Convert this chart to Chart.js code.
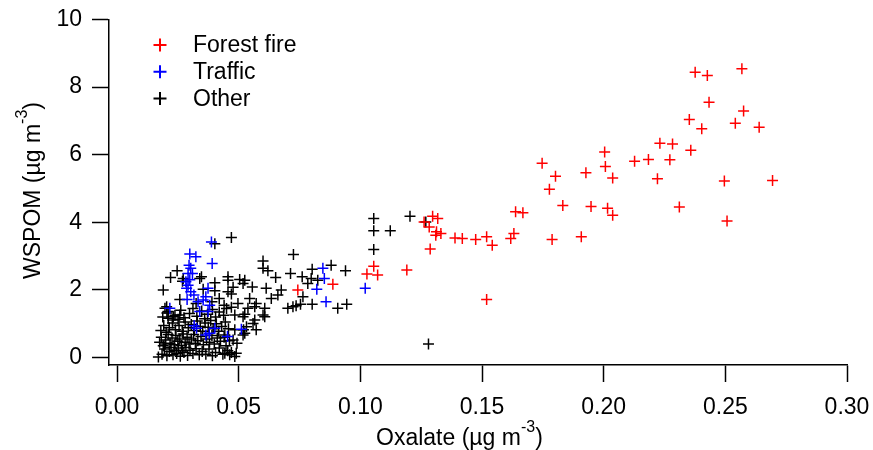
<!DOCTYPE html>
<html>
<head>
<meta charset="utf-8">
<script src="https://cdn.jsdelivr.net/npm/chart.js@4.4.0/dist/chart.umd.min.js"></script>
<style>
html,body{margin:0;padding:0;background:#fff;}
#wrap{width:873px;height:450px;position:relative;}
</style>
</head>
<body>
<div id="wrap"><canvas id="c" width="873" height="450"></canvas></div>
<script>
// ---- Data (Oxalate [µg m-3], WSPOM [µg m-3]) ----
const seriesNames = ["Forest fire", "Traffic", "Other"];
const seriesColors = ["#ff0000", "#0000ff", "#000000"];

const forestFire = [
  [0.0743,2.00],[0.0887,2.17],[0.1027,2.47],[0.1055,2.70],[0.1071,2.44],[0.1191,2.59],
  [0.1287,3.21],[0.1262,4.01],[0.1297,4.18],[0.1318,4.11],[0.1283,3.86],[0.1310,3.62],
  [0.1331,3.67],[0.1313,3.72],[0.1389,3.54],[0.1419,3.52],[0.1474,3.49],[0.1519,3.57],
  [0.1542,3.32],[0.1519,1.72],[0.1638,4.31],[0.1668,4.28],[0.1631,3.67],[0.1618,3.52],
  [0.1788,3.49],[0.1747,5.75],[0.1802,5.36],[0.1777,4.98],[0.1832,4.50],[0.1908,3.57],
  [0.1927,5.47],[0.1948,4.47],[0.2004,6.08],[0.2007,5.65],[0.2037,5.31],[0.2016,4.42],
  [0.2037,4.21],[0.2127,5.81],[0.2184,5.86],[0.2221,5.29],[0.2231,6.34],[0.2283,6.32],
  [0.2272,5.85],[0.2358,6.13],[0.2311,4.45],[0.2496,5.22],[0.2507,4.04],[0.2694,5.24],
  [0.2376,8.44],[0.2426,8.34],[0.2568,8.54],[0.2433,7.55],[0.2575,7.29],[0.2352,7.04],
  [0.2403,6.77],[0.2541,6.93],[0.2639,6.81]
];

const traffic = [
  [0.0388,3.42],[0.0391,2.78],[0.0299,3.06],[0.0324,2.98],[0.0296,2.73],[0.0303,2.64],
  [0.0292,2.49],[0.0310,2.49],[0.0299,2.30],[0.0283,2.24],[0.0292,2.14],[0.0286,2.05],
  [0.0303,1.95],[0.0316,1.85],[0.0288,1.72],[0.0374,2.05],[0.0365,1.80],[0.0354,1.70],
  [0.0333,1.65],[0.0340,1.36],[0.0381,1.55],[0.0374,1.36],[0.0217,1.46],[0.0317,0.94],
  [0.0327,0.87],[0.0402,0.87],[0.0379,0.72],[0.0365,0.67],[0.0454,0.62],[0.0511,0.84],
  [0.0846,2.64],[0.0852,2.34],[0.0821,2.02],[0.0859,1.65],[0.1020,2.05]
];

const other = [
  [0.0725,3.05],[0.1055,4.11],[0.1055,3.75],[0.1055,3.20],[0.1123,3.75],[0.1204,4.18],
  [0.1269,4.01],[0.1280,0.40],
  [0.0600,2.86],[0.0600,2.64],[0.0620,2.57],[0.0652,2.37],[0.0713,2.49],[0.0761,2.39],
  [0.0802,2.61],[0.0798,2.34],[0.0880,2.73],[0.0939,2.57],[0.0784,2.19],[0.0825,2.29],
  [0.0764,1.80],[0.0675,2.00],[0.0661,1.85],[0.0634,1.75],[0.0613,2.05],[0.0556,2.09],
  [0.0525,2.29],[0.0504,2.31],[0.0702,1.46],[0.0723,1.50],[0.0736,1.53],[0.0754,1.58],
  [0.0802,1.58],[0.0907,1.46],[0.0944,1.58],[0.0572,1.60],[0.0545,1.75],[0.0538,1.46],
  [0.0566,1.50],[0.0607,1.46],[0.0600,1.26],[0.0607,1.21],[0.0518,1.21],[0.0559,1.01],
  [0.0532,0.91],[0.0572,0.82],[0.0525,0.72],[0.0456,2.39],[0.0470,3.55],[0.0402,3.37],
  [0.0247,2.57],[0.0220,2.37],[0.0190,2.00],[0.0340,2.34],[0.0402,2.21],[0.0269,2.26],
  [0.0272,2.34],[0.0347,2.39],[0.0354,2.02],[0.0402,1.98],[0.0456,2.29],[0.0477,2.08],
  [0.0518,2.19],[0.0456,1.95],[0.0470,1.88],[0.0497,1.60],[0.0470,1.49],[0.0258,1.72],
  [0.0197,1.46],[0.0204,1.50],[0.0210,1.36],[0.0228,1.11],[0.0210,1.16],[0.0251,1.13],
  [0.0258,1.26],[0.0231,1.21],[0.0484,1.26],[0.0525,1.28],[0.0566,1.11],
  [0.0520,0.82],[0.0518,0.67],[0.0493,0.42],[0.0484,0.03],[0.0443,0.13],[0.0477,0.52],
  [0.0484,0.82],[0.0443,0.67],[0.0490,0.13],[0.0463,0.08],
  [0.0170,0.02],[0.0185,0.10],[0.0195,0.25],[0.0205,0.05],[0.0215,0.18],[0.0222,0.30],
  [0.0230,0.08],[0.0238,0.22],[0.0245,0.12],[0.0252,0.28],[0.0260,0.04],[0.0268,0.20],
  [0.0275,0.15],[0.0283,0.30],[0.0290,0.06],[0.0300,0.22],[0.0312,0.12],[0.0325,0.26],
  [0.0338,0.08],[0.0350,0.18],[0.0365,0.10],[0.0378,0.25],[0.0392,0.05],[0.0405,0.15],
  [0.0420,0.28],[0.0435,0.10],[0.0455,0.20],[0.0470,0.15],[0.0198,0.40],
  [0.0175,0.45],[0.0182,0.60],[0.0190,0.35],[0.0200,0.52],[0.0210,0.68],[0.0218,0.42],
  [0.0226,0.58],[0.0235,0.38],[0.0242,0.65],[0.0250,0.48],[0.0258,0.55],[0.0265,0.36],
  [0.0272,0.70],[0.0280,0.45],[0.0288,0.60],[0.0296,0.40],[0.0305,0.55],[0.0315,0.68],
  [0.0322,0.42],[0.0332,0.50],[0.0345,0.62],[0.0355,0.38],[0.0368,0.55],[0.0380,0.45],
  [0.0390,0.65],[0.0400,0.40],[0.0412,0.58],[0.0425,0.48],[0.0440,0.60],[0.0448,0.35],
  [0.0462,0.50],
  [0.0180,0.80],[0.0192,0.95],[0.0202,0.75],[0.0215,0.88],[0.0228,1.02],[0.0240,0.82],
  [0.0255,0.95],[0.0268,0.78],[0.0280,1.05],[0.0293,0.88],[0.0305,0.98],[0.0318,0.80],
  [0.0330,1.08],[0.0342,0.92],[0.0352,0.78],[0.0362,1.02],[0.0375,0.90],[0.0385,1.10],
  [0.0395,0.85],[0.0408,1.00],[0.0418,0.78],[0.0430,0.92],[0.0445,1.05],[0.0458,0.85],
  [0.0188,1.20],[0.0205,1.32],[0.0238,1.25],[0.0262,1.40],[0.0275,1.18],[0.0298,1.30],
  [0.0312,1.45],[0.0328,1.22],[0.0348,1.38],[0.0360,1.15],[0.0372,1.28],[0.0392,1.42],
  [0.0405,1.20],[0.0420,1.35],[0.0438,1.25],[0.0450,1.45],[0.0390,1.65],[0.0420,1.75],
  [0.0325,1.60],[0.0440,1.55]
];

const xTicks = [0.00, 0.05, 0.10, 0.15, 0.20, 0.25, 0.30];
const yTicks = [0, 2, 4, 6, 8, 10];
const xTitle = ["Oxalate (µg m", "-3", ")"];
const yTitle = ["WSPOM (µg m", "-3", ")"];

// ---- Chart ----
const FONT = "'Liberation Sans', Arial, sans-serif";
const FS = 23;

function toPts(arr){ return arr.map(p => ({x:p[0], y:p[1]})); }

const titlesLegendPlugin = {
  id: 'titlesLegend',
  afterDraw(chart){
    const ctx = chart.ctx;
    ctx.save();
    ctx.fillStyle = '#000';
    ctx.textBaseline = 'alphabetic';
    // x title
    let x = 376, base = 445;
    ctx.font = FS + 'px ' + FONT;
    ctx.fillText(xTitle[0], x, base); x += ctx.measureText(xTitle[0]).width;
    ctx.font = '16px ' + FONT;
    ctx.fillText(xTitle[1], x, base - 13); x += ctx.measureText(xTitle[1]).width;
    ctx.font = FS + 'px ' + FONT;
    ctx.fillText(xTitle[2], x, base);
    // y title (rotated)
    ctx.save();
    ctx.translate(40, 279);
    ctx.rotate(-Math.PI/2);
    let yx = 0;
    ctx.font = FS + 'px ' + FONT;
    ctx.fillText(yTitle[0], yx, 0); yx += ctx.measureText(yTitle[0]).width;
    ctx.font = '16px ' + FONT;
    ctx.fillText(yTitle[1], yx, -13); yx += ctx.measureText(yTitle[1]).width;
    ctx.font = FS + 'px ' + FONT;
    ctx.fillText(yTitle[2], yx, 0);
    ctx.restore();
    // legend
    const rows = [45, 71.7, 98.4];
    ctx.textBaseline = 'middle';
    ctx.font = FS + 'px ' + FONT;
    for (let i = 0; i < seriesNames.length; i++){
      const cy = rows[i], cx = 160;
      ctx.strokeStyle = seriesColors[i];
      ctx.lineWidth = 2;
      ctx.beginPath();
      ctx.moveTo(cx - 6.5, cy); ctx.lineTo(cx + 6.5, cy);
      ctx.moveTo(cx, cy - 6.5); ctx.lineTo(cx, cy + 6.5);
      ctx.stroke();
      ctx.fillStyle = '#000';
      ctx.fillText(seriesNames[i], 193, cy + 1);
    }
    ctx.restore();
  }
};

function ds(label, data, color){
  return {
    label, data: toPts(data),
    pointStyle: 'cross', pointRadius: 5.5, pointHoverRadius: 5.5,
    borderColor: color, backgroundColor: color, pointBorderWidth: 1.5,
    showLine: false
  };
}

new Chart(document.getElementById('c'), {
  type: 'scatter',
  data: {
    datasets: [
      ds(seriesNames[0], forestFire, seriesColors[0]),
      ds(seriesNames[1], traffic, seriesColors[1]),
      ds(seriesNames[2], other, seriesColors[2])
    ]
  },
  options: {
    responsive: false,
    animation: false,
    events: [],
    layout: { padding: { left: 0, right: 26, top: 19.5, bottom: 0 } },
    plugins: { legend: { display: false }, tooltip: { enabled: false } },
    scales: {
      x: {
        type: 'linear', min: -0.0033, max: 0.30,
        afterBuildTicks(s){ s.ticks = xTicks.map(v => ({value: v})); },
        afterFit(s){ s.height = 85; s.paddingLeft = 0; s.paddingRight = 0; s.paddingTop = 0; s.paddingBottom = 0; },
        ticks: { font: { family: FONT, size: FS }, color: '#000', padding: 12,
                 maxRotation: 0, autoSkip: false,
                 callback: v => Number(v).toFixed(2) },
        grid: { display: true, drawOnChartArea: false, drawTicks: true,
                tickLength: 17, tickWidth: 1.5, tickColor: '#000' },
        border: { display: true, color: '#000', width: 1.5 }
      },
      y: {
        type: 'linear', min: -0.22, max: 10,
        afterBuildTicks(s){ s.ticks = yTicks.map(v => ({value: v})); },
        afterFit(s){ s.width = 109; s.paddingLeft = 0; s.paddingRight = 0; s.paddingTop = 0; s.paddingBottom = 0; },
        ticks: { font: { family: FONT, size: FS }, color: '#000', padding: 10,
                 autoSkip: false, callback: v => String(v) },
        grid: { display: true, drawOnChartArea: false, drawTicks: true,
                tickLength: 17, tickWidth: 1.5, tickColor: '#000' },
        border: { display: true, color: '#000', width: 1.5 }
      }
    }
  },
  plugins: [titlesLegendPlugin]
});
</script>
</body>
</html>
